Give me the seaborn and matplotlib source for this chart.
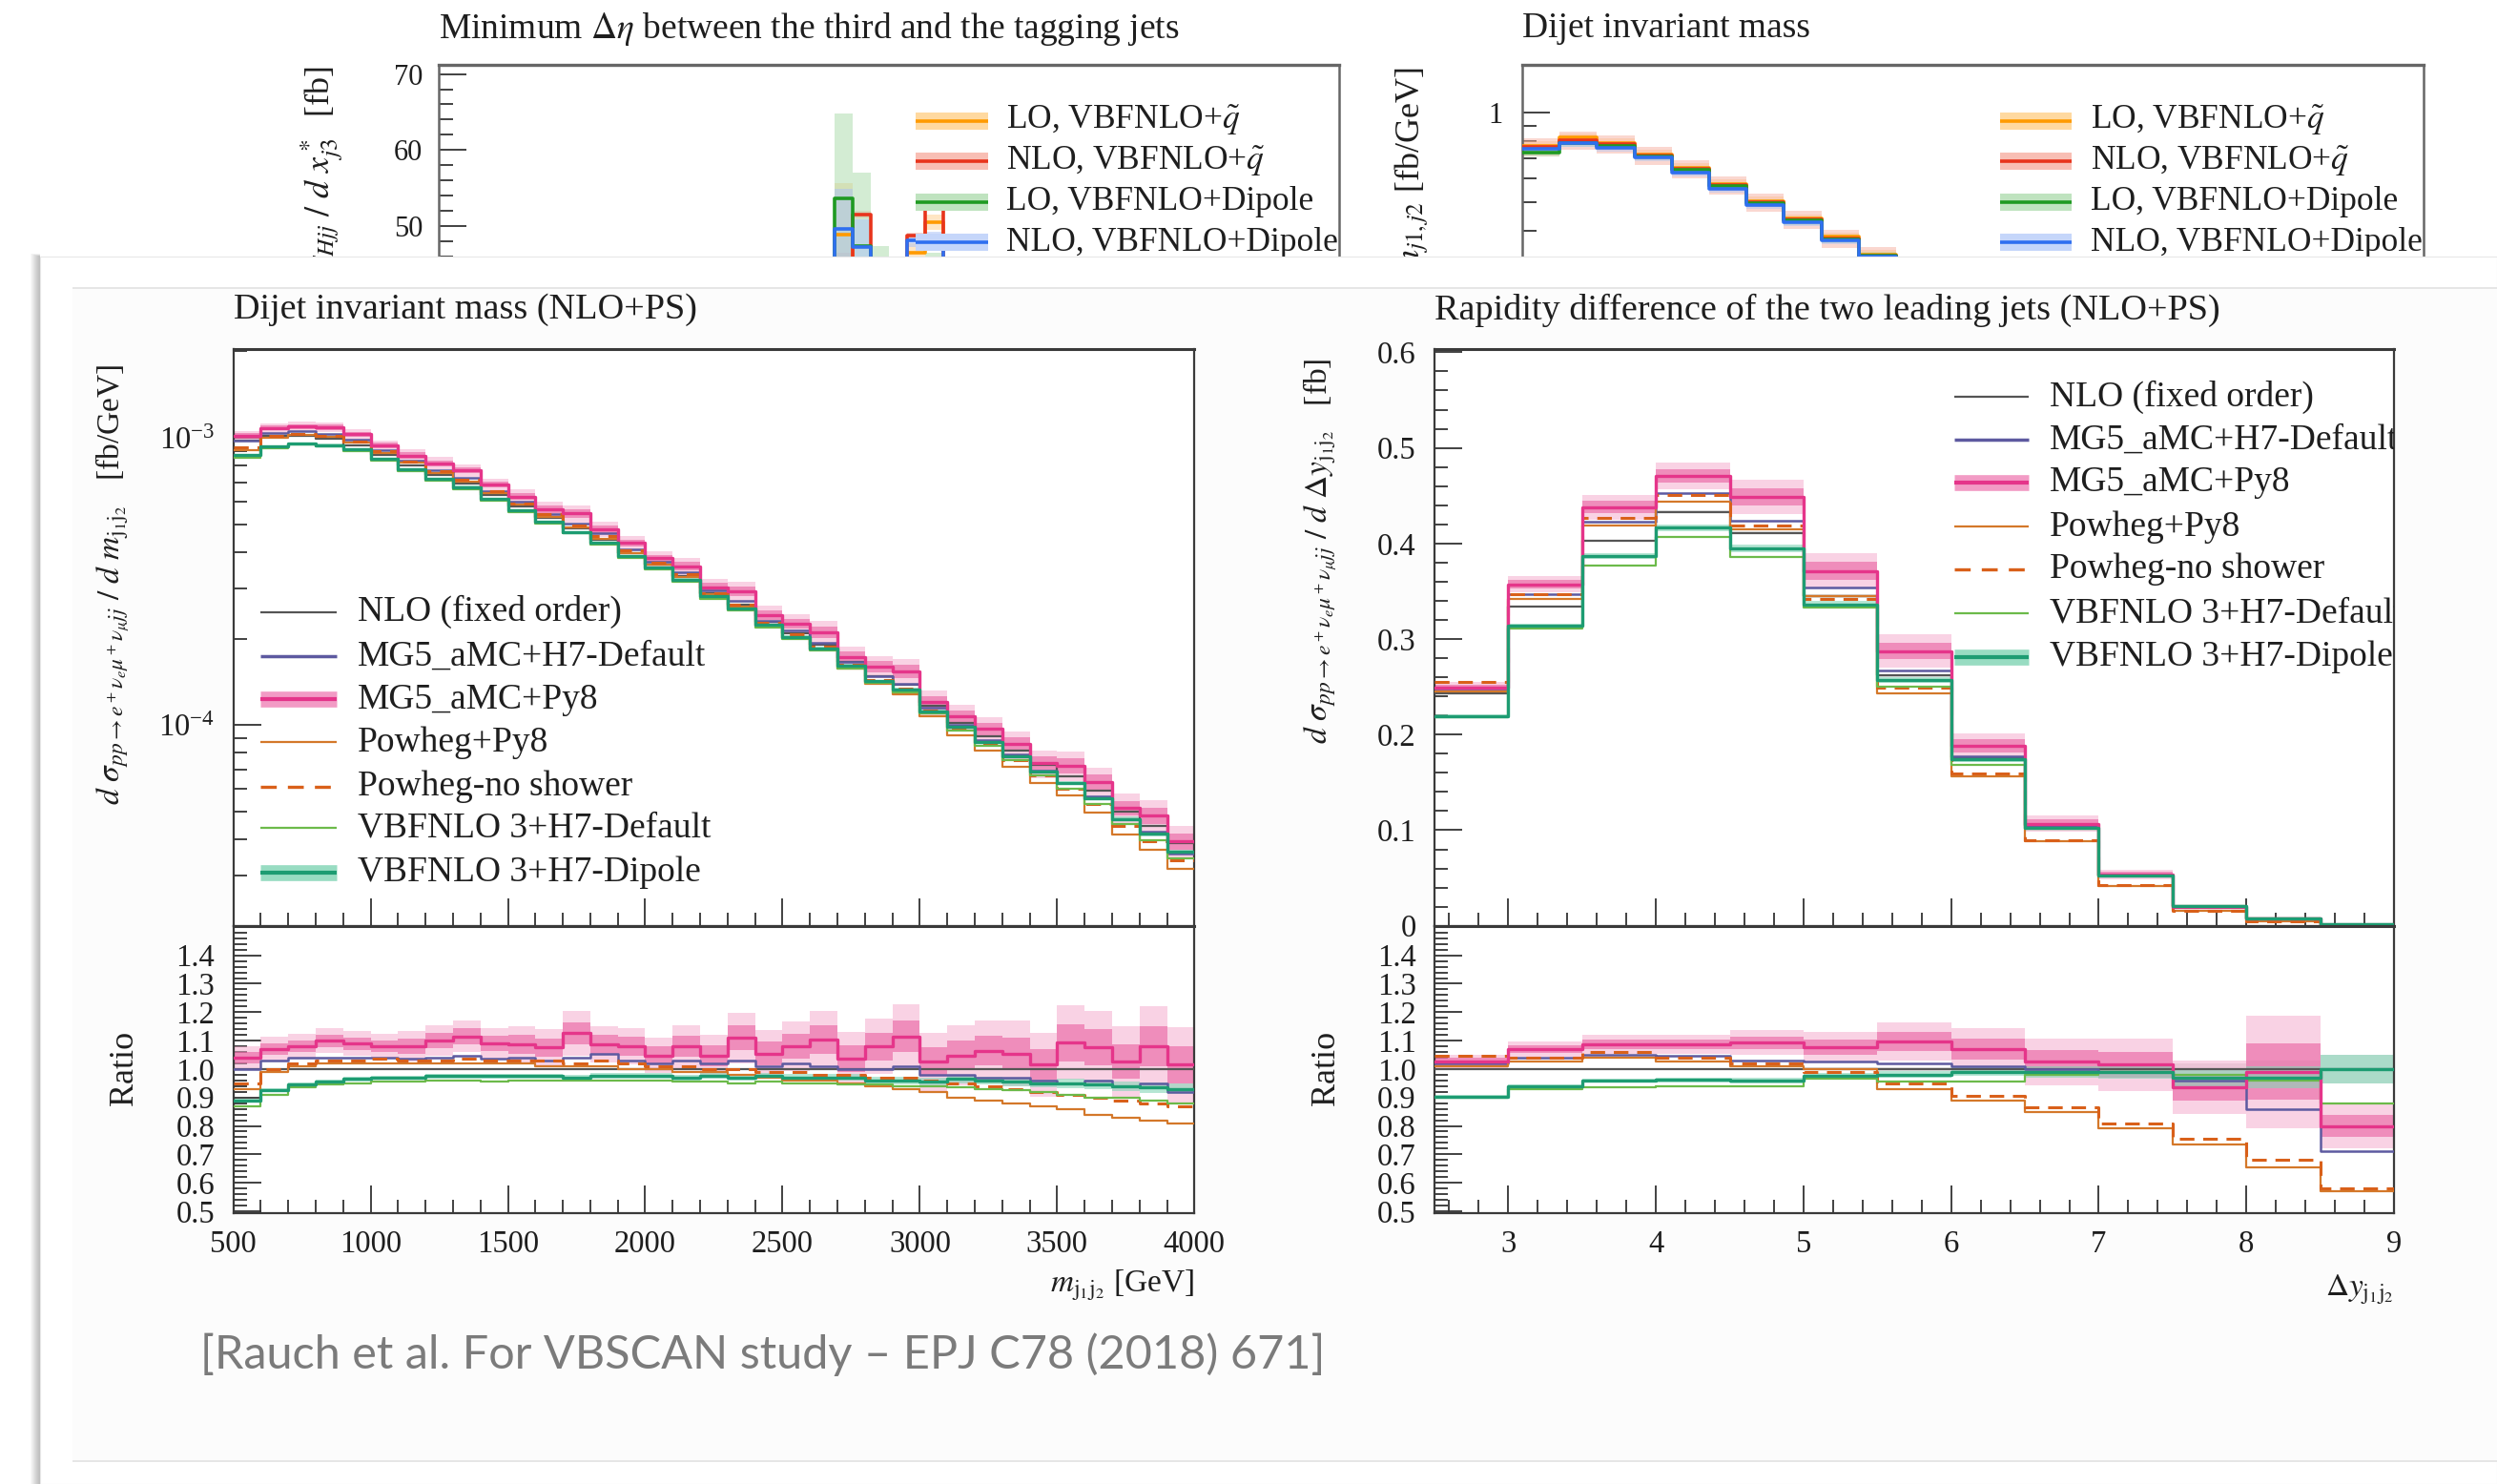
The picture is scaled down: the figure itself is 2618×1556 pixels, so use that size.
import numpy as np
import matplotlib
matplotlib.use("Agg")
import matplotlib.pyplot as plt
import seaborn as sns
from matplotlib.lines import Line2D
from matplotlib.patches import Rectangle
from matplotlib.ticker import (MultipleLocator, FixedLocator, LogLocator,
                               NullFormatter, FuncFormatter)

# ======================= DATA =======================
# --- top-left (partly hidden): minimum Delta-eta, third vs tagging jets [fb]
deta_edges = [2.0, 2.1, 2.2, 2.3, 2.4, 2.5, 2.6, 2.7, 2.8, 2.9, 3.0]
deta_lo_q      = [38.0, 41.0, 48.9, 45.0, 44.0, 42.0, 46.5, 50.5, 43.0, 40.0]
deta_lo_q_hi   = [39.0, 42.0, 55.6, 46.0, 45.0, 43.0, 47.8, 51.5, 44.0, 41.0]
deta_nlo_q     = [38.0, 41.0, 45.5, 51.5, 44.5, 42.5, 48.8, 53.0, 43.5, 40.5]
deta_nlo_q_hi  = [39.0, 42.0, 46.5, 52.0, 45.0, 43.5, 49.2, 53.4, 44.0, 41.0]
deta_lo_d      = [38.0, 41.0, 53.7, 47.4, 44.5, 42.0, 44.0, 45.0, 42.5, 40.0]
deta_lo_d_hi   = [42.0, 45.0, 64.8, 57.0, 47.4, 44.0, 45.5, 46.5, 44.0, 42.0]
deta_nlo_d     = [38.0, 41.0, 49.7, 47.2, 43.5, 42.0, 48.1, 48.8, 43.0, 40.0]
deta_nlo_d_hi  = [39.0, 42.0, 54.9, 50.9, 45.0, 43.0, 49.0, 49.3, 44.0, 41.0]
deta_yticks = [50, 60, 70]

# --- top-right (partly hidden): dijet invariant mass [fb/GeV]
mjjtop_edges = [500, 600, 700, 800, 900, 1000, 1100, 1200, 1300, 1400, 1500, 1600, 1700]
mjjtop_lo_q  = [0.774, 0.823, 0.790, 0.724, 0.652, 0.576, 0.505, 0.440, 0.382, 0.334, 0.290, 0.250]
mjjtop_nlo_q = [0.765, 0.805, 0.783, 0.716, 0.645, 0.570, 0.500, 0.436, 0.378, 0.331, 0.287, 0.248]
mjjtop_lo_d  = [0.733, 0.790, 0.772, 0.712, 0.640, 0.566, 0.497, 0.433, 0.376, 0.330, 0.286, 0.247]
mjjtop_nlo_d = [0.755, 0.790, 0.760, 0.705, 0.628, 0.555, 0.489, 0.427, 0.371, 0.327, 0.284, 0.245]
mjjtop_relerr = {"lo_q": 0.035, "nlo_q": 0.07, "lo_d": 0.03, "nlo_d": 0.03}
mjjtop_yticks = [1.0]

# --- lower-left: dijet invariant mass (NLO+PS), 100 GeV bins 500..4000
mjj_edges = list(range(500, 4001, 100))
nlo_mjj_e4 = [9.77, 10.12, 10.12, 9.89, 9.44, 8.71, 8.04, 7.41, 6.92, 6.31,
              5.75, 5.25, 4.84, 4.42, 3.98, 3.63, 3.31, 2.88, 2.63, 2.29,
              2.09, 1.91, 1.66, 1.48, 1.38, 1.17, 1.02, 0.912, 0.813, 0.724,
              0.661, 0.589, 0.501, 0.447, 0.389]          # x 1e-4 fb/GeV
r_mjj_h7   = [1.00, 1.03, 1.04, 1.04, 1.04, 1.04, 1.035, 1.04, 1.045, 1.035,
              1.04, 1.03, 1.04, 1.055, 1.03, 1.02, 1.03, 1.02, 1.03, 1.01,
              1.02, 1.01, 1.00, 1.00, 1.01, 0.98, 0.98, 0.97, 0.97, 0.96,
              0.95, 0.96, 0.94, 0.95, 0.92]
r_mjj_py8  = [1.04, 1.07, 1.08, 1.10, 1.09, 1.08, 1.08, 1.10, 1.115, 1.09,
              1.087, 1.076, 1.126, 1.087, 1.08, 1.048, 1.08, 1.048, 1.11, 1.054,
              1.08, 1.104, 1.037, 1.08, 1.115, 1.026, 1.048, 1.065, 1.054, 1.015,
              1.093, 1.076, 1.026, 1.08, 1.015]
e_mjj_py8  = [0.02, 0.02, 0.02, 0.02, 0.02, 0.02, 0.025, 0.025, 0.025, 0.025,
              0.03, 0.03, 0.035, 0.03, 0.03, 0.03, 0.035, 0.035, 0.04, 0.04,
              0.04, 0.045, 0.045, 0.045, 0.05, 0.05, 0.05, 0.05, 0.055, 0.055,
              0.06, 0.06, 0.06, 0.065, 0.065]
r_mjj_pow  = [0.93, 0.99, 1.01, 1.02, 1.02, 1.02, 1.02, 1.02, 1.02, 1.02,
              1.02, 1.01, 1.01, 1.01, 1.00, 1.00, 0.99, 0.99, 0.98, 0.97,
              0.96, 0.96, 0.95, 0.94, 0.93, 0.92, 0.90, 0.89, 0.88, 0.87,
              0.86, 0.84, 0.83, 0.82, 0.81]
r_mjj_pows = [0.95, 1.00, 1.02, 1.03, 1.03, 1.035, 1.03, 1.03, 1.035, 1.03,
              1.03, 1.03, 1.02, 1.03, 1.02, 1.01, 1.01, 1.00, 1.00, 0.99,
              0.99, 0.98, 0.98, 0.97, 0.97, 0.96, 0.95, 0.94, 0.93, 0.92,
              0.91, 0.90, 0.89, 0.88, 0.87]
r_mjj_vbf  = [0.87, 0.91, 0.935, 0.945, 0.95, 0.955, 0.955, 0.96, 0.96, 0.955,
              0.96, 0.96, 0.96, 0.96, 0.96, 0.96, 0.955, 0.955, 0.95, 0.955,
              0.95, 0.95, 0.945, 0.945, 0.94, 0.94, 0.935, 0.93, 0.925, 0.92,
              0.91, 0.90, 0.90, 0.89, 0.88]
r_mjj_dip  = [0.89, 0.925, 0.945, 0.955, 0.965, 0.97, 0.97, 0.975, 0.975, 0.975,
              0.975, 0.975, 0.97, 0.975, 0.975, 0.975, 0.97, 0.975, 0.97, 0.975,
              0.97, 0.97, 0.97, 0.96, 0.96, 0.955, 0.965, 0.96, 0.955, 0.95,
              0.95, 0.945, 0.94, 0.935, 0.93]
e_mjj_dip  = [0.008, 0.008, 0.008, 0.008, 0.008, 0.008, 0.008, 0.008, 0.008, 0.008,
              0.008, 0.008, 0.01, 0.01, 0.01, 0.01, 0.01, 0.01, 0.01, 0.01,
              0.012, 0.012, 0.012, 0.012, 0.015, 0.015, 0.015, 0.015, 0.015, 0.015,
              0.018, 0.018, 0.018, 0.02, 0.02]

# --- lower-right: rapidity difference of the two leading jets (NLO+PS), 0.5 bins 2.5..9
dy_edges = [2.5, 3.0, 3.5, 4.0, 4.5, 5.0, 5.5, 6.0, 6.5, 7.0, 7.5, 8.0, 8.5, 9.0]
nlo_dy    = [0.243, 0.334, 0.403, 0.433, 0.411, 0.345, 0.262, 0.176, 0.104, 0.053, 0.021, 0.0075, 0.0012]
e_dy_nlo  = [0.003, 0.003, 0.003, 0.003, 0.004, 0.005, 0.006, 0.008, 0.01, 0.015, 0.02, 0.03, 0.05]
r_dy_h7   = [1.02, 1.04, 1.05, 1.045, 1.03, 1.025, 1.02, 1.01, 1.00, 0.99, 0.96, 0.86, 0.71]
r_dy_py8  = [1.026, 1.07, 1.087, 1.087, 1.093, 1.076, 1.097, 1.07, 1.026, 1.015, 0.935, 0.99, 0.80]
e_dy_py8  = [0.012, 0.012, 0.015, 0.015, 0.02, 0.025, 0.03, 0.035, 0.04, 0.045, 0.05, 0.10, 0.05]
r_dy_pow  = [1.01, 1.025, 1.04, 1.025, 1.01, 1.00, 0.93, 0.89, 0.85, 0.79, 0.735, 0.655, 0.57]
r_dy_pows = [1.048, 1.04, 1.06, 1.04, 1.02, 0.99, 0.95, 0.905, 0.865, 0.81, 0.755, 0.68, 0.58]
r_dy_vbf  = [0.90, 0.93, 0.935, 0.94, 0.94, 0.965, 0.955, 0.955, 0.98, 0.99, 0.98, 0.96, 0.88]
r_dy_dip  = [0.903, 0.94, 0.96, 0.962, 0.96, 0.975, 0.98, 0.99, 0.99, 0.99, 0.97, 0.97, 1.00]
e_dy_dip  = [0.008, 0.008, 0.008, 0.008, 0.01, 0.01, 0.012, 0.015, 0.02, 0.025, 0.03, 0.04, 0.05]

legend_top = ["LO, VBFNLO+$\\tilde{q}$", "NLO, VBFNLO+$\\tilde{q}$",
              "LO, VBFNLO+Dipole", "NLO, VBFNLO+Dipole"]
legend_low = ["NLO (fixed order)", "MG5_aMC+H7-Default", "MG5_aMC+Py8", "Powheg+Py8",
              "Powheg-no shower", "VBFNLO 3+H7-Default", "VBFNLO 3+H7-Dipole"]
ratio_ticks = [0.5, 0.6, 0.7, 0.8, 0.9, 1.0, 1.1, 1.2, 1.3, 1.4]
citation = "[Rauch et al. For VBSCAN study \u2013 EPJ C78 (2018) 671]"

# ======================= STYLE =======================
sns.set_theme(style="ticks")
plt.rcParams["font.family"] = ["Liberation Serif", "DejaVu Serif"]
plt.rcParams["mathtext.fontset"] = "stix"
plt.rcParams["axes.facecolor"] = "white"

W, H, DPI = 2618, 1556, 100
fig = plt.figure(figsize=(W / DPI, H / DPI), dpi=DPI)
fig.patch.set_facecolor("white")

C_OR, C_RED, C_GRN, C_BLU = "#ff9a00", "#e8341c", "#1f9a22", "#2f6ff0"
C_NLO, C_H7, C_PY8, C_PY8B = "#555555", "#5d5aa0", "#e5358a", "#f08abb"
C_POW, C_POWNS, C_VBF, C_DIP, C_DIPB = "#d4782a", "#d9601a", "#6cba4a", "#1d9c72", "#86d6b8"
TXT = "#1e1e1e"


def P(x, y):
    return x / W, 1 - y / H


def axes_px(l, t, r, b, z):
    ax = fig.add_axes([l / W, 1 - b / H, (r - l) / W, (b - t) / H])
    ax.set_zorder(z)
    return ax


def step(ax, edges, vals, color, lw, ls="-", z=3, alpha=1.0):
    x = np.asarray(edges, float)
    v = np.asarray(vals, float)
    y = np.append(v, v[-1])
    sns.lineplot(x=x, y=y, ax=ax, color=color, linewidth=lw, linestyle=ls,
                 drawstyle="steps-post", estimator=None, sort=False,
                 legend=False, zorder=z, alpha=alpha)


def band(ax, edges, lo, hi, color, alpha, z=2):
    x = np.asarray(edges, float)
    lo = np.append(np.asarray(lo, float), lo[-1])
    hi = np.append(np.asarray(hi, float), hi[-1])
    ax.fill_between(x, lo, hi, step="post", color=color, alpha=alpha, lw=0, zorder=z)


def frame(ax, col="#3a3a3a", lw=1.6):
    for s in ax.spines.values():
        s.set_color(col)
        s.set_linewidth(lw)
    ax.spines["top"].set_linewidth(lw + 0.6)
    ax.tick_params(which="both", direction="in", colors="#333333", width=1.3,
                   labelcolor=TXT, top=False, right=False)


def fig_line(x0, x1, y, color, lw, ls="-", alpha=1.0, z=3):
    (a, b), (c, d) = P(x0, y), P(x1, y)
    fig.add_artist(Line2D([a, c], [b, d], transform=fig.transFigure, color=color,
                          lw=lw, ls=ls, alpha=alpha, zorder=z, solid_capstyle="butt",
                          dash_capstyle="butt"))


def fig_text(x, y, s, z=3, **kw):
    return fig.text(*P(x, y), s, zorder=z, **kw)

# ======================= TOP (background slide) =======================
axA = axes_px(460, 68, 1404, 636, 0)
frame(axA, "#666666", 1.8)
axA.set_xlim(0, 5)
axA.set_ylim(0, 71.2)
axA.set_xticks([])
axA.yaxis.set_major_locator(FixedLocator(deta_yticks))
axA.yaxis.set_minor_locator(MultipleLocator(2))
axA.tick_params(which="major", length=21, labelsize=22, pad=12)
axA.tick_params(which="minor", length=11)
for line, hi, cb in [(deta_lo_q, deta_lo_q_hi, "#ffcf8a"),
                     (deta_nlo_q, deta_nlo_q_hi, "#f6a898"),
                     (deta_lo_d, deta_lo_d_hi, "#a9dba9"),
                     (deta_nlo_d, deta_nlo_d_hi, "#a9c1f7")]:
    lo = [2 * a - b for a, b in zip(line, hi)]
    band(axA, deta_edges, lo, hi, cb, 0.5, 1)
for line, cl in [(deta_lo_q, C_OR), (deta_nlo_q, C_RED), (deta_lo_d, C_GRN), (deta_nlo_d, C_BLU)]:
    step(axA, deta_edges, line, cl, 2.6, z=3)

axB = axes_px(1596, 68, 2541, 430, 0)
frame(axB, "#666666", 1.8)
axB.set_yscale("log")
axB.set_xlim(500, 2910)
axB.set_ylim(0.1, 10 ** 0.16)
axB.set_xticks([])
axB.yaxis.set_major_locator(FixedLocator(mjjtop_yticks))
axB.yaxis.set_major_formatter(FuncFormatter(lambda v, p: f"{v:g}"))
axB.yaxis.set_minor_locator(LogLocator(base=10, subs=np.arange(2, 10), numticks=20))
axB.yaxis.set_minor_formatter(NullFormatter())
axB.tick_params(which="major", length=21, labelsize=22, pad=15)
axB.tick_params(which="minor", length=11)
for vals, key, cb in [(mjjtop_lo_q, "lo_q", "#ffcf8a"), (mjjtop_nlo_q, "nlo_q", "#f6a898"),
                      (mjjtop_lo_d, "lo_d", "#a9dba9"), (mjjtop_nlo_d, "nlo_d", "#a9c1f7")]:
    v = np.asarray(vals)
    band(axB, mjjtop_edges, v * (1 - mjjtop_relerr[key]), v * (1 + mjjtop_relerr[key]), cb, 0.45, 1)
for vals, cl in [(mjjtop_lo_q, C_OR), (mjjtop_nlo_q, C_RED), (mjjtop_lo_d, C_GRN), (mjjtop_nlo_d, C_BLU)]:
    step(axB, mjjtop_edges, vals, cl, 2.6, z=3)

fig_text(460, 30, "Minimum $\\Delta\\eta$ between the third and the tagging jets", z=0.5,
         fontsize=27, ha="left", va="center", color=TXT)
fig_text(1596, 30, "Dijet invariant mass", z=0.5, fontsize=27, ha="left", va="center", color=TXT)
fig_text(337, 70, "$d\\sigma_{Hjj}\\ /\\ d\\ x^*_{j3}$  [fb]", z=0.5, fontsize=26, rotation=90,
         ha="center", va="top", color=TXT)
fig_text(1480, 70, "$d\\sigma/dm_{j1,j2}$ [fb/GeV]", z=0.5, fontsize=26, rotation=90,
         ha="center", va="top", color=TXT)

top_rows = [126.7, 169.3, 211.7, 254.3]
top_cols = [(C_OR, "#ffd9a0"), (C_RED, "#f8beb4"), (C_GRN, "#bfe3bf"), (C_BLU, "#c5d6fa")]
for (x0, x1, xt) in [(960, 1036, 1055), (2097, 2172, 2192)]:
    for y, lab, (cl, cb) in zip(top_rows, legend_top, top_cols):
        fig_line(x0, x1, y, cb, 13, z=0.4)
        fig_line(x0, x1, y, cl, 2.6, z=0.45)
        fig_text(xt, y, lab, z=0.5, fontsize=25.5, ha="left", va="center", color=TXT)

# ======================= OVERLAY PANEL =======================
for k in range(1, 11):
    fig.add_artist(Rectangle(P(42 - k, H), k / W, (H - 269 + 0.3 * k) / H,
                             transform=fig.transFigure, facecolor="black",
                             alpha=0.028, lw=0, zorder=0.95))
fig.add_artist(Rectangle(P(42, H), (W - 42) / W, (H - 269) / H, transform=fig.transFigure,
                         facecolor="white", edgecolor="#e8e8e8", lw=0.8, zorder=1))
fig.add_artist(Rectangle(P(76, 1532), (W - 76) / W, (1532 - 302) / H,
                         transform=fig.transFigure, facecolor="#fcfcfc", lw=0, zorder=1.05))
fig_line(76, W, 302, "#e2e2e2", 1.2, z=1.06)
fig_line(76, W, 1532, "#e2e2e2", 1.2, z=1.06)

# ======================= LOWER PLOTS =======================
def series_set(edges, nlo, rat, axm, axr):
    nlo = np.asarray(nlo, float)
    r_h7, r_py8, e_py8, r_pow, r_pows, r_vbf, r_dip, e_dip, e_nlo = rat
    r_py8, e_py8 = np.asarray(r_py8), np.asarray(e_py8)
    r_dip, e_dip = np.asarray(r_dip), np.asarray(e_dip)
    for ax, base in [(axm, nlo), (axr, nlo / nlo)]:
        if e_nlo is not None:
            band(ax, edges, base * (1 - np.asarray(e_nlo)), base * (1 + np.asarray(e_nlo)), "#b0b0b0", 0.35, 1.5)
        band(ax, edges, base * r_py8 * (1 - 2 * e_py8), base * r_py8 * (1 + 2 * e_py8), "#f5a6ca", 0.5, 2)
        band(ax, edges, base * r_py8 * (1 - e_py8), base * r_py8 * (1 + e_py8), "#e8559a", 0.55, 2.1)
        band(ax, edges, base * r_dip * (1 - e_dip), base * r_dip * (1 + e_dip), C_DIPB, 0.6, 2.2)
        step(ax, edges, base, C_NLO, 1.6, z=4)
        step(ax, edges, base * np.asarray(r_h7), C_H7, 1.8, z=4)
        step(ax, edges, base * np.asarray(r_pow), C_POW, 1.6, z=4)
        step(ax, edges, base * np.asarray(r_pows), C_POWNS, 2.2, ls=(0, (5, 3)), z=4)
        step(ax, edges, base * np.asarray(r_vbf), C_VBF, 1.6, z=4)
        step(ax, edges, base * r_py8, C_PY8, 2.4, z=5)
        step(ax, edges, base * r_dip, C_DIP, 2.4, z=5)


def ratio_axis(ax):
    ax.set_ylim(0.494, 1.504)
    ax.yaxis.set_major_locator(FixedLocator(ratio_ticks))
    ax.yaxis.set_major_formatter(FuncFormatter(lambda v, p: f"{v:.1f}"))
    ax.yaxis.set_minor_locator(MultipleLocator(0.02))


axL = axes_px(244.6, 365.8, 1252.3, 970.7, 2)
axLr = axes_px(244.6, 970.7, 1252.3, 1271.7, 2)
axR = axes_px(1504, 365.8, 2510, 970.7, 2)
axRr = axes_px(1504, 970.7, 2510, 1271.7, 2)

nlo_mjj = np.asarray(nlo_mjj_e4) * 1e-4
series_set(mjj_edges, nlo_mjj, (r_mjj_h7, r_mjj_py8, e_mjj_py8, r_mjj_pow, r_mjj_pows,
                               r_mjj_vbf, r_mjj_dip, e_mjj_dip, None), axL, axLr)
series_set(dy_edges, nlo_dy, (r_dy_h7, r_dy_py8, e_dy_py8, r_dy_pow, r_dy_pows,
                             r_dy_vbf, r_dy_dip, e_dy_dip, e_dy_nlo), axR, axRr)

for ax in (axL, axLr, axR, axRr):
    frame(ax)
    ax.tick_params(which="major", length=21, labelsize=23.5)
    ax.tick_params(which="minor", length=10)
    ax.set_xlabel("")
    ax.set_ylabel("")

axL.set_yscale("log")
axL.set_ylim(2.0e-5, 2.04e-3)
axL.yaxis.set_minor_locator(LogLocator(base=10, subs=np.arange(2, 10), numticks=30))
axL.yaxis.set_minor_formatter(NullFormatter())
for ax in (axL, axLr):
    ax.set_xlim(500, 4000)
    ax.xaxis.set_major_locator(MultipleLocator(500))
    ax.xaxis.set_minor_locator(MultipleLocator(100))
for ax in (axR, axRr):
    ax.set_xlim(2.5, 9)
    ax.xaxis.set_major_locator(MultipleLocator(1))
    ax.xaxis.set_minor_locator(MultipleLocator(0.2))
axR.set_ylim(0, 0.6036)
axR.yaxis.set_major_locator(MultipleLocator(0.1))
axR.yaxis.set_minor_locator(MultipleLocator(0.02))
axR.yaxis.set_major_formatter(FuncFormatter(lambda v, p: "0" if abs(v) < 1e-9 else f"{v:.1f}"))
ratio_axis(axLr)
ratio_axis(axRr)
for ax in (axL, axR):
    ax.tick_params(axis="x", labelbottom=False)
for ax in (axL, axR, axLr, axRr):
    ax.tick_params(axis="y", pad=14)
for ax in (axLr, axRr):
    ax.tick_params(axis="x", pad=13)

# titles & labels
fig_text(245, 325, "Dijet invariant mass (NLO+PS)", fontsize=27.5, ha="left", va="center", color=TXT)
fig_text(1504, 325, "Rapidity difference of the two leading jets (NLO+PS)", fontsize=27.5,
         ha="left", va="center", color=TXT)
fig_text(118, 613, "$d\\ \\sigma_{pp\\to e^+\\nu_e\\mu^+\\nu_\\mu jj}\\ /\\ d\\ m_{\\mathrm{j_1j_2}}$   [fb/GeV]",
         fontsize=24, rotation=90, ha="center", va="center", color=TXT)
fig_text(1384, 578, "$d\\ \\sigma_{pp\\to e^+\\nu_e\\mu^+\\nu_\\mu jj}\\ /\\ d\\ \\Delta y_{\\mathrm{j_1j_2}}$   [fb]",
         fontsize=24, rotation=90, ha="center", va="center", color=TXT)
fig_text(130, 1120, "Ratio", fontsize=26, rotation=90, ha="center", va="center", color=TXT)
fig_text(1390, 1120, "Ratio", fontsize=26, rotation=90, ha="center", va="center", color=TXT)
fig_text(1252, 1348, "$m_{\\mathrm{j_1j_2}}$ [GeV]", fontsize=24, ha="right", va="center", color=TXT)
fig_text(2510, 1352, "$\\Delta y_{\\mathrm{j_1j_2}}$", fontsize=24, ha="right", va="center", color=TXT)

# legends
low_styles = [(None, (C_NLO, 1.6, "-")),
              (None, (C_H7, 2.5, "-")),
              ((C_PY8B, 12, 0.85), (C_PY8, 3.0, "-")),
              (None, (C_POW, 1.6, "-")),
              (None, (C_POWNS, 2.4, (0, (5, 3.5)))),
              (None, (C_VBF, 1.6, "-")),
              ((C_DIPB, 12, 0.85), (C_DIP, 3.0, "-"))]
left_rows = [641.7, 688.3, 733.3, 778.3, 825.0, 868.3, 915.0]
right_rows = [416.0, 461.0, 505.5, 552.4, 597.0, 643.0, 688.6]
for (x0, x1, xt, rows, host) in [(273, 353, 375, left_rows, axL), (2049, 2127, 2149, right_rows, axR)]:
    for y, lab, (bnd, ln) in zip(rows, legend_low, low_styles):
        if bnd is not None:
            fig_line(x0, x1, y, bnd[0], bnd[1], alpha=bnd[2], z=3)
        fig_line(x0, x1, y, ln[0], ln[1], ls=ln[2], z=3.1)
        host.text(*P(xt, y), lab, transform=fig.transFigure, fontsize=27, ha="left",
                  va="center", color=TXT, zorder=6, clip_on=True)

fig_text(210, 1420, citation, fontsize=35, ha="left", va="center", color="#7b7b7b",
         family=["Lato", "DejaVu Sans"], z=3)

fig.savefig("out.png", dpi=DPI, facecolor="white")
